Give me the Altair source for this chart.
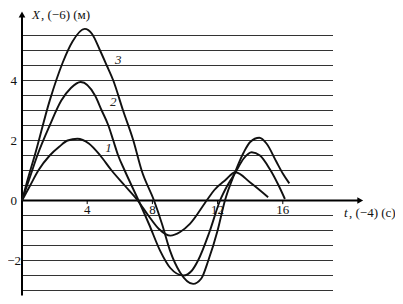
import altair as alt
import pandas as pd

# curve 1
t1 = [0, 0.5, 1.0, 1.7, 2.3, 2.8, 3.4, 4.1, 4.8, 5.5, 6.3, 7.1, 7.75, 8.4, 9.1, 9.7, 10.3, 11.33, 11.8, 12.45, 13.1, 14.0, 15.1]
x1 = [0, 0.5, 1.0, 1.5, 1.8, 2.0, 2.06, 1.9, 1.5, 1.0, 0.5, 0, -0.5, -0.95, -1.17, -1.05, -0.78, 0, 0.35, 0.67, 0.94, 0.6, 0.11]
# curve 2
t2 = [0, 0.5, 0.94, 1.7, 2.41, 3.0, 3.6, 4.48, 4.89, 5.3, 5.6, 5.9, 6.3, 7.15, 7.8, 8.47, 9.1, 9.9, 10.4, 10.8, 11.5, 12.15, 12.6, 13.1, 13.6, 14.09, 14.6, 15.2, 15.7, 16.13]
x2 = [0, 0.8, 1.5, 2.5, 3.33, 3.75, 3.95, 3.5, 3.0, 2.5, 2.0, 1.5, 1.0, 0, -0.8, -1.67, -2.25, -2.5, -2.35, -2.0, -1.05, 0, 0.5, 0.94, 1.4, 1.61, 1.5, 1.05, 0.55, 0.05]
# curve 3
t3 = [0, 0.4, 0.78, 1.7, 2.5, 3.1, 3.85, 4.3, 4.79, 5.2, 5.6, 6.2, 6.83, 7.34, 8.1, 8.6, 9.08, 9.7, 10.5, 11.0, 11.43, 12.0, 12.45, 13.07, 13.6, 14.0, 14.56, 15.0, 15.6, 16.0, 16.4]
x3 = [0, 0.8, 1.5, 3.33, 4.6, 5.3, 5.72, 5.55, 5.0, 4.5, 4.0, 3.0, 2.0, 1.0, 0, -0.8, -1.67, -2.4, -2.78, -2.6, -2.0, -1.0, 0, 0.94, 1.6, 1.95, 2.09, 1.9, 1.3, 0.9, 0.57]

curve_names = ["1", "2", "3"]
label_t = [5.3, 5.6, 5.9]
label_x = [1.75, 3.3, 4.7]

grid_y = [-3, -2.5, -2, -1.5, -1, -0.5, 0.5, 1, 1.5, 2, 2.5, 3, 3.5, 4, 4.5, 5, 5.5]
grid_end = 19.08

x_ticks = [4, 8, 12, 16]
x_tick_labels = ["4", "8", "12", "16"]
y_ticks = [4, 2, 0, -2]
y_tick_labels = ["4", "2", "0", "\u22122"]

x_title_italic = "t"
x_title_rest = ", (\u22124) (\u0441)"
y_title_italic = "X"
y_title_rest = ", (\u22126) (\u043c)"

FONT = "Liberation Serif"
xs = alt.Scale(domain=[0, 342 / 16.3], nice=False, zero=False)
ys = alt.Scale(domain=[-94.5 / 30, 188.5 / 30], nice=False, zero=False)

curves = pd.concat([
    pd.DataFrame({"t": t1, "x": x1, "curve": "1"}),
    pd.DataFrame({"t": t2, "x": x2, "curve": "2"}),
    pd.DataFrame({"t": t3, "x": x3, "curve": "3"}),
])

grid_df = pd.DataFrame({"y": grid_y, "x0": 0, "x1": grid_end})
grid = alt.Chart(grid_df).mark_rule(color="#333333", strokeWidth=1).encode(
    x=alt.X("x0:Q", scale=xs, axis=None), x2="x1:Q", y=alt.Y("y:Q", scale=ys, axis=None))

xaxis = alt.Chart(pd.DataFrame({"a": [0], "b": [20.7], "y": [0]})).mark_rule(color="black", strokeWidth=2).encode(
    x=alt.X("a:Q", scale=xs, axis=None), x2="b:Q", y=alt.Y("y:Q", scale=ys, axis=None))
yaxis = alt.Chart(pd.DataFrame({"x": [0], "a": [-3.17], "b": [6.15]})).mark_rule(color="black", strokeWidth=2).encode(
    x=alt.X("x:Q", scale=xs, axis=None), y=alt.Y("a:Q", scale=ys, axis=None), y2="b:Q")
xarrow = alt.Chart(pd.DataFrame({"x": [20.75], "y": [0]})).mark_point(
    shape="triangle-right", filled=True, color="black", size=45, opacity=1).encode(
    x=alt.X("x:Q", scale=xs, axis=None), y=alt.Y("y:Q", scale=ys, axis=None))
yarrow = alt.Chart(pd.DataFrame({"x": [0], "y": [6.2]})).mark_point(
    shape="triangle-up", filled=True, color="black", size=45, opacity=1).encode(
    x=alt.X("x:Q", scale=xs, axis=None), y=alt.Y("y:Q", scale=ys, axis=None))

xticks_df = pd.DataFrame({"t": x_ticks, "lab": x_tick_labels, "y0": 0, "y1": -0.12, "ly": -0.3})
xtick_marks = alt.Chart(xticks_df).mark_rule(color="black", strokeWidth=1).encode(
    x=alt.X("t:Q", scale=xs, axis=None), y=alt.Y("y0:Q", scale=ys, axis=None), y2="y1:Q")
xtick_text = alt.Chart(xticks_df).mark_text(font=FONT, fontSize=13, align="center", baseline="middle", color="#111").encode(
    x=alt.X("t:Q", scale=xs, axis=None), y=alt.Y("ly:Q", scale=ys, axis=None), text="lab:N")

yticks_df = pd.DataFrame({"v": y_ticks, "lab": y_tick_labels})
ytick_pos = alt.Chart(yticks_df).transform_filter("datum.v >= 0").mark_text(
    font=FONT, fontSize=13, align="right", baseline="middle", color="#111").encode(
    x=alt.value(-5), y=alt.Y("v:Q", scale=ys, axis=None), text="lab:N")
ytick_neg = alt.Chart(yticks_df).transform_filter("datum.v < 0").mark_text(
    font=FONT, fontSize=13, align="right", baseline="middle", color="#111").encode(
    x=alt.value(-1), y=alt.Y("v:Q", scale=ys, axis=None), text="lab:N")

lines = alt.Chart(curves).mark_line(color="#111", strokeWidth=1.9, interpolate="monotone").encode(
    x=alt.X("t:Q", scale=xs, axis=None), y=alt.Y("x:Q", scale=ys, axis=None), detail="curve:N")

lab_df = pd.DataFrame({"t": label_t, "x": label_x, "lab": curve_names})
curve_labels = alt.Chart(lab_df).mark_text(font=FONT, fontSize=13, fontStyle="italic", color="#222").encode(
    x=alt.X("t:Q", scale=xs, axis=None), y=alt.Y("x:Q", scale=ys, axis=None), text="lab:N")

xt1 = alt.Chart(pd.DataFrame({"s": [x_title_italic]})).mark_text(
    font=FONT, fontSize=13, fontStyle="italic", align="left", baseline="middle", color="#111").encode(
    x=alt.value(322), y=alt.value(201), text="s:N")
xt2 = alt.Chart(pd.DataFrame({"s": [x_title_rest]})).mark_text(
    font=FONT, fontSize=13, align="left", baseline="middle", color="#111").encode(
    x=alt.value(327), y=alt.value(201), text="s:N")
yt1 = alt.Chart(pd.DataFrame({"s": [y_title_italic]})).mark_text(
    font=FONT, fontSize=13, fontStyle="italic", align="left", baseline="top", color="#111").encode(
    x=alt.value(10), y=alt.value(-3), text="s:N")
yt2 = alt.Chart(pd.DataFrame({"s": [y_title_rest]})).mark_text(
    font=FONT, fontSize=13, align="left", baseline="top", color="#111").encode(
    x=alt.value(19), y=alt.value(-3), text="s:N")

chart = alt.layer(
    grid, xaxis, yaxis, xarrow, yarrow, xtick_marks, xtick_text, ytick_pos, ytick_neg,
    lines, curve_labels, xt1, xt2, yt1, yt2
).properties(
    width=342, height=283,
    padding={"left": 14, "top": 4, "right": 31, "bottom": 1},
    autosize=alt.AutoSizeParams(type="none"),
    background="white",
).configure_view(stroke=None)

chart.save("out.html", embed_options={"renderer": "svg", "actions": False})
